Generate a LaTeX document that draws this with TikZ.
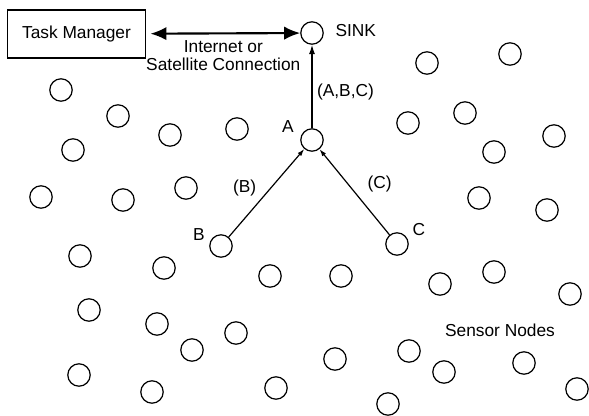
\documentclass[tikz,border=0pt]{standalone}
\usepackage{fontspec}
\setmainfont{Liberation Sans}
\usetikzlibrary{arrows.meta,positioning}

\begin{document}
\begin{tikzpicture}[x=0.75pt,y=-0.75pt,>=Latex,line width=0.9pt,
  sensor/.style={draw,circle,minimum size=16.8pt,inner sep=0pt},
  every node/.style={font=\fontsize{13}{13.5}\selectfont}]
\useasboundingbox (0,0) rectangle (589,416);
\node[draw,minimum width=104pt,minimum height=36pt] (tm) at (76.5,34) {Task Manager};
\node[sensor] (sink) at (312,33) {};
\node[sensor] (a) at (312,140) {};
\node[sensor] (b) at (221,246) {};
\node[sensor] (c) at (397,244) {};
\node[right=5pt of sink,yshift=2pt] (sinklbl) {SINK};
\node (albl) at (288,127) {A};
\node (blbl) at (199,235) {B};
\node (clbl) at (419,230) {C};
\node (snlbl) at (500,330) {Sensor Nodes};
\foreach \x/\y [count=\i] in {61/90,118/116,170/135,237/129,73/150,41/197,123/200,186/188,
  427/63,510/54,408/123,465/113,494/152,554/136,479/198,547/210,
  80/256,164/268,270/276,341/276,440/284,494/272,570/294,
  89/310,157/324,236/333,192/350,335/359,409/351,444/372,524/363,
  79/375,152/392,276/388,388/404,577/389}
  \node[sensor] (s\i) at (\x,\y) {};
\draw[<->,line width=1.6pt,>={Latex[length=12pt,width=10pt]},shorten <=3pt] (tm) -- (sink)
  node[midway,below,align=center,yshift=-1pt] (link) {Internet or\\Satellite Connection};
\draw[->,>={Latex[length=7pt,width=4.5pt]}] (a) -- node[right,yshift=-4pt] (abc) {(A,B,C)} (sink);
\draw[->,>={Latex[length=5.5pt,width=3.5pt]}] (b) -- node[above left,xshift=-4pt,yshift=-6pt] (blink) {(B)} (a);
\draw[->,>={Latex[length=5.5pt,width=3.5pt]}] (c) -- node[above right,xshift=6pt,yshift=-4pt] (clink) {(C)} (a);
\end{tikzpicture}
\end{document}
